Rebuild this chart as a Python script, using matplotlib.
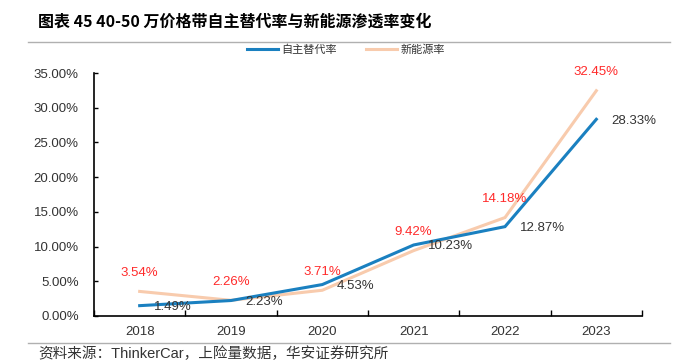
import matplotlib
matplotlib.use("Agg")
import matplotlib.pyplot as plt
from matplotlib.lines import Line2D

plt.rcParams['font.family'] = ['Liberation Sans', 'Noto Sans CJK SC', 'DejaVu Sans']

# data
years = ['2018', '2019', '2020', '2021', '2022', '2023']
self_rate = [1.49, 2.23, 4.53, 10.23, 12.87, 28.33]   # 自主替代率 (%)
nev_rate = [3.54, 2.26, 3.71, 9.42, 14.18, 32.45]     # 新能源率 (%)
y_ticks = [0, 5, 10, 15, 20, 25, 30, 35]

blue = '#1a80c0'
peach = '#f8cbad'
red = '#ff2a2a'
dark = '#333333'

fig = plt.figure(figsize=(6.95, 3.64), dpi=100)
ax = fig.add_axes([94 / 695, 1 - 316 / 364, (642 - 94) / 695, (316 - 73) / 364])

x = list(range(len(years)))
ax.plot(x, nev_rate, color=peach, lw=2.2, solid_joinstyle='miter')
ax.plot(x, self_rate, color=blue, lw=2.2, solid_joinstyle='miter')

for xi, v in zip(x, nev_rate):
    ax.annotate(f'{v:.2f}%', (xi, v), xytext=(0, 9), textcoords='offset points',
                ha='center', va='bottom', color=red, fontsize=9.5)
for xi, v in zip(x, self_rate):
    ax.annotate(f'{v:.2f}%', (xi, v), xytext=(10.5, -1), textcoords='offset points',
                ha='left', va='center', color=dark, fontsize=9.5)

ax.set_xlim(-0.5, len(years) - 0.5)
ax.set_ylim(0, 35)
ax.set_xticks(x)
ax.set_xticklabels(years)
ax.set_xticks([i - 0.5 for i in range(len(years) + 1)], minor=True)
ax.tick_params(axis='x', which='major', length=0, pad=7, labelsize=9.5, labelcolor=dark)
ax.tick_params(axis='x', which='minor', direction='in', length=4, width=1, color='black')
ax.set_yticks(y_ticks)
ax.set_yticklabels([f'{t:.2f}%' for t in y_ticks])
ax.tick_params(axis='y', direction='in', length=3, width=1, pad=11, labelsize=9.5,
               labelcolor=dark)
for s in ['top', 'right']:
    ax.spines[s].set_visible(False)
for s in ['left', 'bottom']:
    ax.spines[s].set_color('black')
    ax.spines[s].set_linewidth(1.2)

handles = [Line2D([], [], color=blue, lw=2.2), Line2D([], [], color=peach, lw=2.2)]
fig.legend(handles, ['自主替代率', '新能源率'], loc='center', bbox_to_anchor=(346 / 695, 1 - 50 / 364),
           ncol=2, frameon=False, fontsize=8, handlelength=2.8, columnspacing=2.6,
           handletextpad=0.3, labelcolor=dark)

# title, rules and source note
fig.text(38 / 695, 1 - 22 / 364, '图表 45 40-50 万价格带自主替代率与新能源渗透率变化',
         fontsize=11.5, fontweight='bold', ha='left', va='center', color='black',
         family=['Noto Sans CJK SC', 'DejaVu Sans'])
fig.add_artist(Line2D([28 / 695, 670 / 695], [1 - 42 / 364] * 2, color='#b0b0b0', lw=1))
fig.add_artist(Line2D([28 / 695, 670 / 695], [1 - 343 / 364] * 2, color='#b0b0b0', lw=1))
fig.text(38 / 695, 1 - 354 / 364, '资料来源：ThinkerCar，上险量数据，华安证券研究所',
         fontsize=10.5, ha='left', va='center', color=dark)

fig.savefig('out.png', dpi=100)
